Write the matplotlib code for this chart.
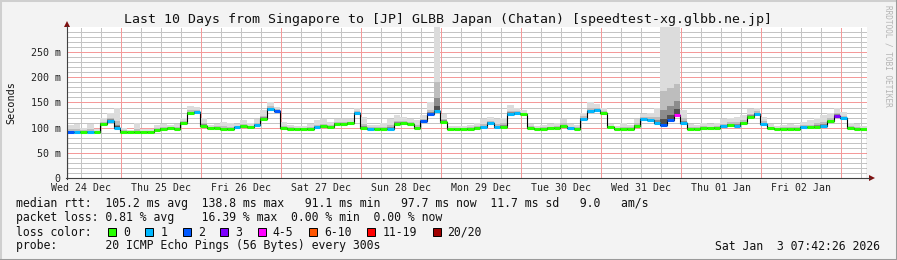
import matplotlib
matplotlib.use("Agg")
import matplotlib.pyplot as plt  # type: ignore
import numpy as np
from matplotlib.lines import Line2D
from matplotlib.patches import Polygon, Rectangle

W, H = 897, 260
MONO = "DejaVu Sans Mono"

# 2-hour steps over the 10 days (120 steps), start Wed 24 Dec 07:42
step_hours = 2
median_ms = [
    92, 91, 92, 92, 92, 108, 114, 100, 92, 91,
    91, 92, 92, 96, 98, 99, 98, 110, 130, 131,
    104, 99, 100, 98, 98, 101, 103, 101, 105, 118,
    138, 134, 100, 98, 98, 98, 98, 101, 103, 101,
    108, 108, 109, 129, 100, 98, 98, 98, 98, 108,
    109, 108, 100, 113, 128, 133, 112, 98, 98, 98,
    98, 99, 101, 110, 101, 102, 128, 129, 127, 100,
    98, 98, 99, 99, 104, 99, 98, 118, 133, 135,
    129, 101, 98, 98, 98, 104, 117, 115, 110, 105,
    115, 126, 110, 98, 98, 99, 99, 100, 103, 106,
    104, 110, 122, 128, 108, 99, 98, 98, 98, 98,
    101, 101, 102, 104, 113, 124, 119, 100, 98, 98,
]
smoke_max_ms = [
    105, 108, 100, 107, 98, 120, 130, 140, 100, 96,
    110, 98, 98, 105, 108, 105, 108, 120, 143, 142,
    120, 105, 108, 112, 110, 108, 115, 110, 118, 135,
    150, 142, 112, 105, 104, 104, 108, 115, 118, 112,
    118, 117, 118, 140, 122, 105, 106, 110, 118, 125,
    122, 118, 115, 125, 150, 300, 128, 104, 103, 104,
    106, 110, 118, 122, 118, 120, 145, 140, 135, 108,
    104, 105, 108, 110, 118, 108, 106, 130, 150, 148,
    140, 108, 104, 110, 106, 118, 128, 130, 140, 300,
    300, 300, 135, 108, 106, 110, 108, 110, 118, 120,
    122, 125, 138, 140, 122, 108, 104, 106, 108, 105,
    112, 116, 120, 125, 130, 140, 132, 110, 108, 104,
]
# index into loss_labels / loss_colors
loss_idx = [
    2, 1, 0, 1, 0, 0, 1, 1, 0, 0,
    0, 0, 0, 0, 0, 0, 0, 0, 0, 1,
    0, 0, 0, 0, 0, 1, 0, 0, 1, 0,
    1, 2, 0, 0, 0, 0, 0, 1, 0, 0,
    0, 0, 0, 1, 0, 1, 0, 0, 1, 0,
    0, 0, 0, 2, 2, 1, 0, 0, 0, 0,
    0, 0, 1, 1, 1, 0, 1, 1, 0, 0,
    0, 0, 0, 0, 0, 1, 0, 1, 1, 1,
    0, 0, 0, 0, 0, 0, 1, 1, 1, 2,
    2, 4, 1, 0, 0, 0, 0, 0, 1, 0,
    1, 0, 0, 1, 1, 0, 0, 0, 0, 0,
    1, 0, 0, 1, 0, 3, 1, 0, 0, 0,
]

loss_labels = ["0", "1", "2", "3", "4-5", "6-10", "11-19", "20/20"]
loss_colors = ["#26ff00", "#00b8ff", "#0059ff", "#7e00ff",
               "#ff00ff", "#ff5500", "#ff0000", "#a00000"]

day_labels = ["Wed 24 Dec", "Thu 25 Dec", "Fri 26 Dec", "Sat 27 Dec", "Sun 28 Dec",
              "Mon 29 Dec", "Tue 30 Dec", "Wed 31 Dec", "Thu 01 Jan", "Fri 02 Jan"]
y_ticks = [0, 50, 100, 150, 200, 250]
y_tick_labels = ["0", "50 m", "100 m", "150 m", "200 m", "250 m"]

title = "Last 10 Days from Singapore to [JP] GLBB Japan (Chatan) [speedtest-xg.glbb.ne.jp]"
legend_rows = [
    "median rtt:  105.2 ms avg  138.8 ms max   91.1 ms min   97.7 ms now  11.7 ms sd   9.0   am/s",
    "packet loss: 0.81 % avg    16.39 % max  0.00 % min  0.00 % now",
    "loss color:",
    "probe:       20 ICMP Echo Pings (56 Bytes) every 300s",
]
stamp = "Sat Jan  3 07:42:26 2026"

first_midnight = 16 + 17 / 60 + 34 / 3600  # hours after start


def fx(px):
    return px / W


def fy(py):
    return 1 - py / H


fig = plt.figure(figsize=(W / 100, H / 100), dpi=100, facecolor="#f3f3f3")
ax = fig.add_axes([fx(67), fy(178), 800 / W, 151 / H])
ax.set_facecolor("white")
ax.set_xlim(0, 240)
ax.set_ylim(0, 300)
for s in ax.spines.values():
    s.set_visible(False)

# grid, 1px dotted like rrdtool
dots = (0, (1, 1))
minor_x = np.arange(first_midnight - 12, 240, 6)
major_x = np.arange(first_midnight, 240, 24)
grid_kw = dict(linestyles=dots, lw=0.72, antialiased=False)
ax.vlines(minor_x, 0, 300, colors="#c4c4c4", zorder=0.5, **grid_kw)
ax.hlines(np.arange(10, 300, 10), 0, 240, colors="#c4c4c4", zorder=0.5, **grid_kw)
ax.vlines(major_x, 0, 300, colors="#f49a9a", zorder=0.6, **grid_kw)
ax.hlines(y_ticks[1:], 0, 240, colors="#f49a9a", zorder=0.6, **grid_kw)

# smoke
edges = np.arange(0, len(median_ms) + 1) * step_hours
med = np.array(median_ms, dtype=float)
top = np.array(smoke_max_ms, dtype=float)
span = top - med
for frac, col in zip([1.0, 0.35, 0.15, 0.06], ["#dcdcdc", "#bdbdbd", "#8c8c8c", "#505050"]):
    ax.stairs(med + span * frac, edges, baseline=med - 1, fill=True, color=col, lw=0, zorder=1)

# median line coloured by loss
ax.stairs(med, edges, color="black", lw=0.8, zorder=2)
ax.hlines(med, edges[:-1], edges[1:], colors=[loss_colors[i] for i in loss_idx],
          lw=2.2, zorder=3)

# ticks
ax.set_yticks(y_ticks, labels=y_tick_labels)
ax.set_xticks(first_midnight - 12 + 24 * np.arange(len(day_labels)), labels=day_labels)
ax.tick_params(axis="y", length=0, pad=4.5, labelsize=7.2)
ax.tick_params(axis="x", length=0, pad=3.5, labelsize=7.1)
for lab in ax.get_xticklabels() + ax.get_yticklabels():
    lab.set_fontfamily(MONO)
    lab.set_color("#222222")

# axes lines and arrows
axis_col = "#404040"
arrow_col = "#7f1010"
fig.add_artist(Line2D([fx(67), fx(67)], [fy(179), fy(26)], color=axis_col, lw=0.8))
fig.add_artist(Line2D([fx(66), fx(870)], [fy(178), fy(178)], color=axis_col, lw=0.8))
fig.add_artist(Polygon([[fx(64), fy(27)], [fx(70), fy(27)], [fx(67), fy(21)]],
                       closed=True, color=arrow_col, lw=0))
fig.add_artist(Polygon([[fx(869), fy(175)], [fx(869), fy(181)], [fx(875), fy(178)]],
                       closed=True, color=arrow_col, lw=0))

# texts
fig.text(fx(447.5), fy(19), title, ha="center", va="center", fontsize=9.5,
         family=MONO, color="#111111")
fig.text(fx(11), fy(103), "Seconds", ha="center", va="center", rotation=90,
         fontsize=7.3, family=MONO, color="#111111")
fig.text(fx(888), fy(5), "RRDTOOL / TOBI OETIKER", ha="center", va="top", rotation=270,
         fontsize=5.6, family=MONO, color="#b4b4b4")

row_y = [204, 218, 232, 246]
for txt, y in zip(legend_rows, row_y):
    fig.text(fx(16), fy(y), txt, ha="left", va="center", fontsize=8.3,
             family=MONO, color="#111111")
fig.text(fx(880), fy(246), stamp, ha="right", va="center", fontsize=8.3,
         family=MONO, color="#111111")

# loss colour legend
bx = 108
for lab, col in zip(loss_labels, loss_colors):
    fig.add_artist(Rectangle((fx(bx), fy(236)), 8 / W, 8 / H, facecolor=col,
                             edgecolor="black", lw=0.7))
    fig.text(fx(bx + 15), fy(232), lab, ha="left", va="center", fontsize=8.3,
             family=MONO, color="#111111")
    bx += 15 + len(lab) * 6.94 + 15.5

# outer bevel
fig.add_artist(Line2D([0, 0, 1], [0, 1, 1], color="#cfcfcf", lw=2.2))
fig.add_artist(Line2D([0, 1, 1], [0, 0, 1], color="#9a9a9a", lw=2.2))

fig.savefig("out.png", dpi=100, facecolor=fig.get_facecolor())
